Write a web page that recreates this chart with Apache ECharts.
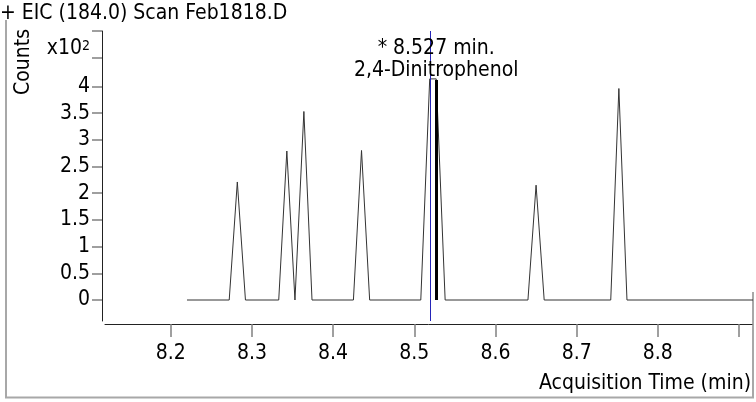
<!DOCTYPE html>
<html>
<head>
<meta charset="utf-8">
<script src="https://cdn.jsdelivr.net/npm/echarts@6/dist/echarts.min.js"></script>
<style>
html,body{margin:0;padding:0;background:#fff;}
#c{width:756px;height:402px;}
</style>
</head>
<body>
<div id="c"></div>
<script>
// Acquisition time (min)
const times = [8.220, 8.272, 8.282, 8.292, 8.333, 8.343, 8.353, 8.364, 8.374, 8.425, 8.435, 8.445, 8.508, 8.519, 8.527, 8.538, 8.640, 8.650, 8.660, 8.742, 8.752, 8.762, 8.920];
// Counts (x10^2)
const counts = [0, 0, 2.21, 0, 0, 2.79, 0, 3.53, 0, 0, 2.80, 0, 0, 4.14, 4.14, 0, 0, 2.15, 0, 0, 3.96, 0, 0];
const yTickLabels = [0, 0.5, 1, 1.5, 2, 2.5, 3, 3.5, 4];
const xTickLabels = [8.2, 8.3, 8.4, 8.5, 8.6, 8.7, 8.8];
const xTicks = [8.2, 8.3, 8.4, 8.5, 8.6, 8.7, 8.8, 8.9];
const markerTime = 8.527;
const markerCount = 4.12;
const cursorTime = 8.520;
const compoundName = '2,4-Dinitrophenol';
const titleText = '+ EIC (184.0) Scan Feb1818.D';
const xName = 'Acquisition Time (min)';
const yName = 'Counts';

const FONT = "'DejaVu Sans Condensed', 'Liberation Sans', sans-serif";
const FS = 21;
const yMin = -0.393, yMax = 5.037;

const chart = echarts.init(document.getElementById('c'), null, {renderer: 'canvas'});
const data = times.map((t, i) => [t, counts[i]]);

chart.setOption({
  animation: false,
  backgroundColor: '#fff',
  grid: {left: 105, right: 4, top: 31, bottom: 81, containLabel: false},
  xAxis: {
    type: 'value', min: 8.119, max: 8.916, offset: 3,
    splitLine: {show: false},
    axisLine: {show: true, onZero: false, lineStyle: {color: '#222', width: 1}},
    axisTick: {show: true, customValues: xTicks, length: 13, lineStyle: {color: '#808080', width: 1.5}},
    axisLabel: {show: true, customValues: xTickLabels, margin: 19, color: '#000', fontSize: FS, fontFamily: FONT,
      formatter: v => (Math.round(v * 10) / 10).toFixed(1)}
  },
  yAxis: {
    type: 'value', min: yMin, max: yMax, offset: 3,
    splitLine: {show: false},
    axisLine: {show: true, onZero: false, lineStyle: {color: '#222', width: 1}},
    axisTick: {show: true, customValues: yTickLabels.concat([4.53, yMax]), length: 10, lineStyle: {color: '#808080', width: 1.5}},
    axisLabel: {show: true, customValues: yTickLabels, margin: 12, color: '#000', fontSize: FS, fontFamily: FONT,
      formatter: v => String(Math.round(v * 10) / 10)}
  },
  series: [{
    type: 'line', data: data, symbol: 'none', clip: true, silent: true,
    lineStyle: {color: '#333', width: 1},
    markLine: {
      silent: true, symbol: 'none', animation: false,
      label: {show: false},
      data: [
        {xAxis: cursorTime, lineStyle: {color: '#2424b8', width: 1, type: 'solid'}},
        [{coord: [markerTime, 0], lineStyle: {color: '#000', width: 3, type: 'solid'}}, {coord: [markerTime, markerCount]}]
      ]
    },
    markPoint: {
      silent: true, symbol: 'circle', symbolSize: 0,
      data: [{coord: [markerTime, markerCount]}],
      label: {show: true, position: 'top', distance: -2, color: '#000', fontSize: FS, fontFamily: FONT, lineHeight: 22,
        formatter: '* ' + markerTime.toFixed(3) + ' min.\n' + compoundName}
    }
  }],
  graphic: [
    {type: 'text', left: 0, top: 3, style: {text: titleText, font: FS + 'px ' + FONT, fill: '#000'}},
    {type: 'text', x: 24, y: 62, rotation: Math.PI / 2, style: {text: yName, font: FS + 'px ' + FONT, fill: '#000', align: 'center', verticalAlign: 'middle'}},
    {type: 'text', x: 82, y: 49, style: {text: 'x10', font: FS + 'px ' + FONT, fill: '#000', align: 'right', verticalAlign: 'middle'}},
    {type: 'text', x: 82, y: 46, style: {text: '2', font: '14px ' + FONT, fill: '#000', align: 'left', verticalAlign: 'middle'}},
    {type: 'text', right: 5, top: 373, style: {text: xName, font: FS + 'px ' + FONT, fill: '#000'}},
    {type: 'line', shape: {x1: 6, y1: 20, x2: 6, y2: 398}, style: {stroke: '#a8a8a8', lineWidth: 2}},
    {type: 'line', shape: {x1: 5, y1: 397.5, x2: 754, y2: 397.5}, style: {stroke: '#a8a8a8', lineWidth: 2}},
    {type: 'line', shape: {x1: 753, y1: 292, x2: 753, y2: 398}, style: {stroke: '#a8a8a8', lineWidth: 2}}
  ]
});
</script>
</body>
</html>
